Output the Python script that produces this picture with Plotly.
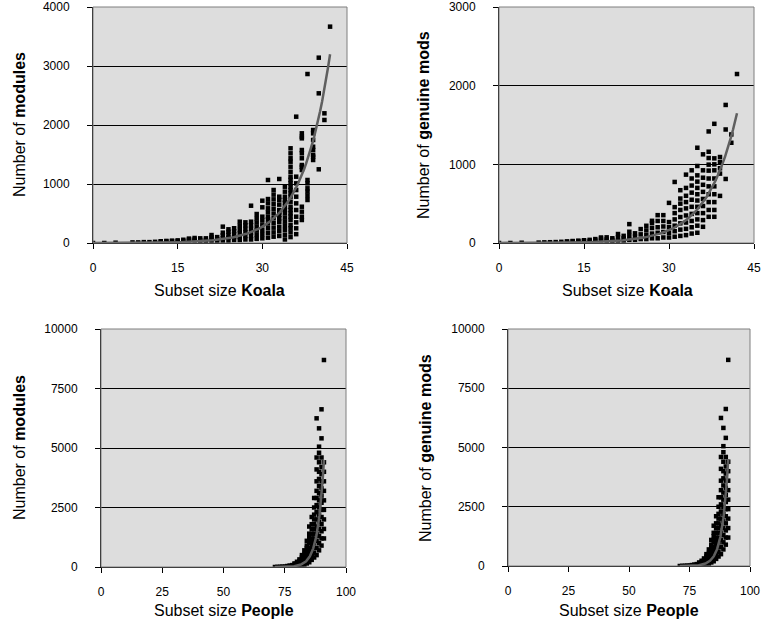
import plotly.graph_objects as go
import numpy as np

# ---------------- data ----------------
koala_size = (
    [0, 2, 4, 7, 8, 9, 10, 11, 12, 12, 13, 13, 14, 14, 15, 15, 16, 16, 17, 17, 17, 18, 18, 18]
    + [19] * 3 + [20] * 3 + [21] * 4 + [22] * 3 + [23] * 5 + [24] * 5 + [25] * 5 + [26] * 6
    + [27] * 6 + [28] * 7 + [29] * 7 + [30] * 8 + [31] * 11 + [32] * 11 + [33] * 12 + [34] * 14
    + [35] * 23 + [36] * 11 + [37] * 13 + [38] * 7 + [39] * 8 + [40] * 3 + [41] * 2 + [42]
)
koala_modules = (
    [0, 0, 5, 10, 10, 15, 15, 20, 20, 30, 25, 35, 30, 40, 30, 45, 35, 55, 40, 60, 75, 40, 60, 85]
    + [20, 50, 79] + [25, 50, 79] + [30, 70, 100, 135] + [30, 65, 100]
    + [40, 80, 130, 175, 277] + [40, 90, 140, 190, 232] + [50, 100, 150, 200, 250]
    + [50, 100, 160, 220, 290, 361] + [60, 120, 180, 240, 300, 350]
    + [60, 120, 180, 240, 300, 361, 632] + [70, 140, 210, 280, 350, 420, 491]
    + [80, 150, 220, 300, 380, 446, 605, 717]
    + [90, 170, 250, 330, 400, 446, 520, 588, 672, 745, 1068]
    + [107, 180, 260, 340, 420, 500, 580, 660, 740, 820, 898]
    + [119, 200, 276, 360, 420, 475, 520, 559, 650, 729, 785, 1085]
    + [60, 140, 220, 290, 361, 430, 503, 560, 615, 680, 729, 785, 870, 954]
    + [100, 180, 249, 305, 390, 450, 503, 560, 615, 700, 785, 840, 898, 950, 1011, 1070,
       1124, 1208, 1293, 1378, 1436, 1520, 1605]
    + [150, 249, 350, 446, 559, 672, 785, 898, 1011, 1124, 2141]
    + [390, 446, 531, 615, 1237, 1293, 1322, 1436, 1520, 1576, 1774, 1802, 1859]
    + [729, 800, 870, 927, 1011, 1068, 2864]
    + [1407, 1463, 1492, 1576, 1632, 1746, 1859, 1915]
    + [1249, 2537, 3141] + [2085, 2198] + [3667]
)

koala_g_size = (
    [0, 2, 4, 7, 8, 9, 10, 11, 12, 12, 13, 13, 14, 14, 15, 15, 16, 16, 17, 17, 18, 18, 18]
    + [19] * 3 + [20] * 3 + [21] * 3 + [22] * 3 + [23] * 4 + [24] * 3 + [25] * 3 + [26] * 4
    + [27] * 5 + [28] * 5 + [29] * 5 + [30] * 5 + [31] * 7 + [32] * 8 + [33] * 9 + [34] * 10
    + [35] * 12 + [36] * 10 + [37] * 11 + [38] * 10 + [39] * 5 + [40] * 3 + [41] * 2 + [42]
)
koala_genuine = (
    [0, 0, 3, 5, 8, 10, 12, 15, 15, 20, 20, 25, 20, 30, 25, 35, 25, 40, 30, 50, 30, 55, 70]
    + [20, 45, 72] + [20, 40, 60] + [30, 70, 114] + [30, 60, 91] + [40, 90, 143, 240]
    + [40, 80, 123] + [50, 110, 177] + [50, 100, 160, 219] + [60, 120, 190, 253, 282]
    + [60, 130, 200, 280, 354] + [70, 140, 210, 280, 354] + [70, 130, 200, 266, 510]
    + [80, 150, 220, 300, 380, 456, 776]
    + [90, 170, 250, 330, 420, 500, 565, 671]
    + [100, 180, 260, 350, 440, 520, 600, 700, 869]
    + [120, 200, 280, 370, 460, 550, 640, 730, 820, 924]
    + [130, 220, 300, 380, 460, 540, 620, 700, 780, 860, 979, 1211]
    + [206, 291, 380, 470, 560, 650, 740, 830, 924, 1127]
    + [333, 420, 520, 620, 720, 820, 920, 996, 1080, 1160, 1418]
    + [333, 420, 520, 620, 720, 820, 924, 1000, 1076, 1515]
    + [599, 882, 950, 1029, 1093] + [814, 1443, 1755] + [1274, 1380] + [2148]
)

people_size = (
    [71, 72, 73, 74, 75, 76, 76, 77, 77, 78, 78] + [79] * 3 + [80] * 4 + [81] * 5 + [82] * 6
    + [83] * 7 + [84] * 9 + [85] * 11 + [86] * 11 + [87] * 12 + [88] * 14 + [89] * 16
    + [90] * 15 + [91] * 10
)
people_modules = (
    [0, 5, 10, 15, 20, 25, 40, 30, 60, 40, 80] + [50, 100, 150] + [50, 100, 150, 220]
    + [60, 120, 180, 250, 320] + [80, 150, 220, 300, 400, 500]
    + [100, 180, 260, 350, 450, 550, 700]
    + [150, 250, 350, 450, 550, 650, 800, 900, 1100]
    + [200, 300, 450, 550, 700, 800, 1000, 1100, 1250, 1400, 1700]
    + [300, 450, 600, 750, 900, 1050, 1200, 1400, 1600, 1800, 2100]
    + [400, 600, 800, 1000, 1200, 1400, 1600, 1800, 2000, 2200, 2500, 2900]
    + [500, 800, 1100, 1400, 1700, 2000, 2300, 2600, 2900, 3200, 3600, 4100, 4600, 6247]
    + [700, 1000, 1300, 1600, 1900, 2200, 2500, 2800, 3100, 3400, 3700, 4000, 4400, 4800,
       5056, 5826]
    + [900, 1200, 1500, 1800, 2100, 2400, 2700, 3000, 3300, 3600, 3900, 4200, 4600, 5406, 6625]
    + [1200, 1600, 2000, 2400, 2800, 3200, 3600, 4000, 4400, 8697]
)
people_genuine = list(people_modules)

# exponential trend lines (end value, growth rate, x span)
koala_mod_trend = dict(x0=0, x1=42, y_end=3200, rate=0.204)
koala_gen_trend = dict(x0=0, x1=42, y_end=1650, rate=0.193)
people_mod_trend = dict(x0=71, x1=91, y_end=4500, rate=0.40)
people_gen_trend = dict(x0=71, x1=91, y_end=4500, rate=0.40)

koala_xticks = [0, 15, 30, 45]
people_xticks = [0, 25, 50, 75, 100]
koala_mod_yticks = [0, 1000, 2000, 3000, 4000]
koala_gen_yticks = [0, 1000, 2000, 3000]
people_yticks = [0, 2500, 5000, 7500, 10000]

# ---------------- figure ----------------
W, H = 763, 627
FONT = "Liberation Sans, Arial, sans-serif"

def px_dom(a, b):
    return [a / W, b / W]

def py_dom(top, bottom):
    return [1 - bottom / H, 1 - top / H]

panels = [
    dict(x=koala_size, y=koala_modules, trend=koala_mod_trend, xd=px_dom(93, 347), yd=py_dom(7, 243),
         xr=[0, 45], yr=[0, 4000], xt=koala_xticks, yt=koala_mod_yticks),
    dict(x=koala_g_size, y=koala_genuine, trend=koala_gen_trend, xd=px_dom(499, 754), yd=py_dom(7, 243),
         xr=[0, 45], yr=[0, 3000], xt=koala_xticks, yt=koala_gen_yticks),
    dict(x=people_size, y=people_modules, trend=people_mod_trend, xd=px_dom(101, 346), yd=py_dom(329, 567),
         xr=[0, 100], yr=[0, 10000], xt=people_xticks, yt=people_yticks),
    dict(x=people_size, y=people_genuine, trend=people_gen_trend, xd=px_dom(508, 750), yd=py_dom(329, 566),
         xr=[0, 100], yr=[0, 10000], xt=people_xticks, yt=people_yticks),
]

fig = go.Figure()
layout = dict(
    width=W, height=H, margin=dict(l=0, r=0, t=0, b=0, autoexpand=False),
    paper_bgcolor="white", plot_bgcolor="#DDDDDD", showlegend=False,
    font=dict(family=FONT, size=12, color="black"),
)
shapes = []
for i, p in enumerate(panels, start=1):
    xa = "x" if i == 1 else f"x{i}"
    ya = "y" if i == 1 else f"y{i}"
    t = p["trend"]
    tx = np.linspace(t["x0"], t["x1"], 120)
    ty = t["y_end"] * np.exp(t["rate"] * (tx - t["x1"]))
    fig.add_trace(go.Scatter(x=p["x"], y=p["y"], mode="markers", xaxis=xa, yaxis=ya,
                             marker=dict(symbol="square", size=4.5, color="black", line=dict(width=0))))
    fig.add_trace(go.Scatter(x=tx, y=ty, mode="lines", xaxis=xa, yaxis=ya,
                             line=dict(color="#5f5f5f", width=2.5)))
    layout[f"xaxis{'' if i == 1 else i}"] = dict(
        domain=p["xd"], range=p["xr"], anchor=ya, tickvals=p["xt"], showgrid=False, zeroline=False,
        showline=True, linecolor="black", linewidth=1, ticks="outside", ticklen=5, tickcolor="black",
        ticklabelstandoff=9, automargin=False, ticklabeloverflow="allow",
        tickfont=dict(size=12, family=FONT), fixedrange=True)
    layout[f"yaxis{'' if i == 1 else i}"] = dict(
        domain=p["yd"], range=p["yr"], anchor=xa, tickvals=p["yt"], tickformat="d", showgrid=True,
        gridcolor="black", gridwidth=1, zeroline=False, showline=True, linecolor="black", linewidth=1,
        ticks="outside", ticklen=5, tickcolor="black", ticklabelstandoff=15, automargin=False,
        ticklabeloverflow="allow", tickfont=dict(size=12, family=FONT), fixedrange=True)
    shapes.append(dict(type="rect", xref="paper", yref="paper", x0=p["xd"][0], x1=p["xd"][1],
                       y0=p["yd"][0], y1=p["yd"][1], line=dict(color="#7f7f7f", width=1), layer="above"))

ann = []
def title(text, x, y, angle=0):
    ann.append(dict(text=text, x=x / W, y=1 - y / H, xref="paper", yref="paper", showarrow=False,
                    textangle=angle, font=dict(size=16, family=FONT, color="black"),
                    xanchor="center", yanchor="middle"))

title("Subset size <b>Koala</b>", 220, 290)
title("Subset size <b>Koala</b>", 627, 290)
title("Subset size <b>People</b>", 224, 610)
title("Subset size <b>People</b>", 629, 610)
title("Number of <b>modules</b>", 19, 125, -90)
title("Number of <b>genuine mods</b>", 423, 125, -90)
title("Number of <b>modules</b>", 19, 448, -90)
title("Number of <b>genuine mods</b>", 425, 448, -90)

layout["annotations"] = ann
layout["shapes"] = shapes
fig.update_layout(**layout)
fig.write_html("out.html", config={"displayModeBar": False},
               post_script="document.body.style.margin='0';document.body.style.overflow='hidden';")
